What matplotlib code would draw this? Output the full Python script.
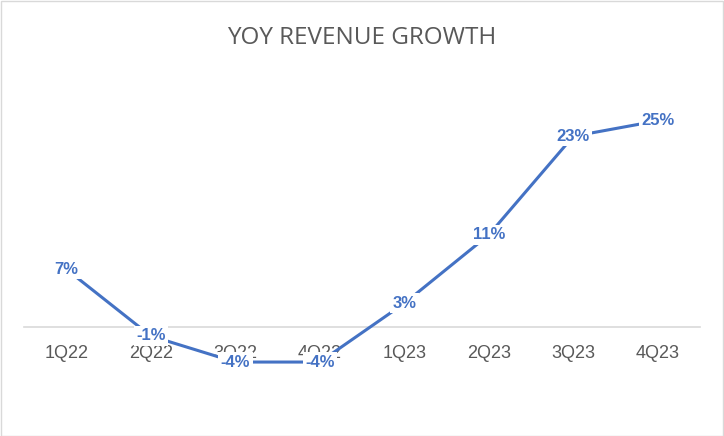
import matplotlib
matplotlib.use("Agg")
import matplotlib.pyplot as plt
from matplotlib.patches import Rectangle

quarters = ["1Q22", "2Q22", "3Q22", "4Q22", "1Q23", "2Q23", "3Q23", "4Q23"]
growth = [7.1, -1.1, -4.3, -4.3, 2.9, 11.3, 23.4, 25.3]
labels = ["7%", "-1%", "-4%", "-4%", "3%", "11%", "23%", "25%"]

W, H = 724, 436
fig = plt.figure(figsize=(W / 100, H / 100), dpi=100)
fig.patch.set_facecolor("white")
fig.add_artist(Rectangle((0.5 / W, 0.5 / H), 1 - 1.5 / W, 1 - 1.5 / H, transform=fig.transFigure,
                         fill=False, edgecolor="#D9D9D9", linewidth=1))

# axes in pixel coordinates
left, right = 24, 700
ymin, ymax = -5, 30
top_px, bot_px = 82.5, 367.75
ax = fig.add_axes([left / W, 1 - bot_px / H, (right - left) / W, (bot_px - top_px) / H])
ax.set_xlim(-0.5, len(quarters) - 0.5)
ax.set_ylim(ymin, ymax)
ax.set_facecolor("none")

x = list(range(len(quarters)))
ax.plot(x, growth, color="#4472C4", linewidth=2.2, solid_capstyle="round", zorder=3)

for xi, yi, lab in zip(x, growth, labels):
    ax.text(xi, yi, lab, ha="center", va="center", fontsize=12, fontweight="bold",
            color="#4472C4", family="Liberation Sans", zorder=4,
            bbox=dict(facecolor="white", edgecolor="none", pad=1.8))

for s in ["top", "right", "left"]:
    ax.spines[s].set_visible(False)
ax.spines["bottom"].set_position(("data", 0))
ax.spines["bottom"].set_color("#D9D9D9")
ax.spines["bottom"].set_linewidth(1.2)
ax.spines["bottom"].set_zorder(1)
ax.set_yticks([])
ax.set_xticks(x)
ax.set_xticklabels(quarters, fontsize=13, color="#595959", family="Liberation Sans")
ax.tick_params(axis="x", length=0, pad=13)
for t in ax.get_xticklabels():
    t.set_zorder(2)

fig.text(0.5, 1 - 38 / H, "YOY REVENUE GROWTH", ha="center", va="center", fontsize=17.5,
         color="#595959", family="Open Sans")

fig.savefig("out.png", dpi=100)
